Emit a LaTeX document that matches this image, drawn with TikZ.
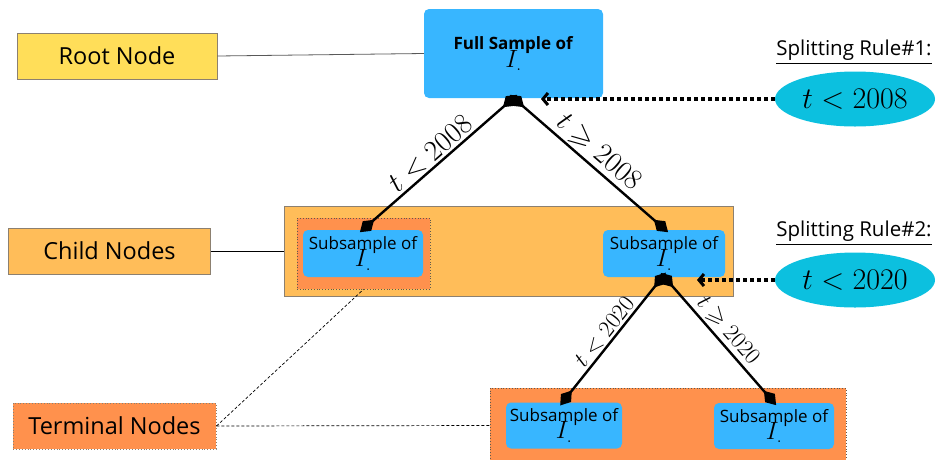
\RequirePackage{fix-cm}
\documentclass[tikz,border=0pt]{standalone}
\usepackage{amssymb}
\usepackage[no-math]{fontspec}
\setmainfont{Open Sans}
\usetikzlibrary{arrows.meta,shapes.geometric}
\definecolor{skyb}{HTML}{38B6FF}
\definecolor{cyanell}{HTML}{0CC0DF}
\definecolor{yel}{HTML}{FFDE59}
\definecolor{lorange}{HTML}{FFBD59}
\definecolor{dorange}{HTML}{FF914D}
\definecolor{bord}{HTML}{8C8070}
\tikzset{
  labbox/.style={draw=bord, line width=0.9pt, inner sep=0, minimum height=46pt,
    font=\fontsize{23.5}{26}\selectfont},
  bluebox/.style={fill=skyb, rounded corners=5pt, inner sep=0, align=center,
    font=\fontsize{17}{19}\selectfont},
  rulel/.style={font=\fontsize{20.5}{24}\selectfont, inner sep=0},
  rellipse/.style={ellipse, fill=cyanell, inner sep=0, minimum width=160pt, minimum height=55pt,
    font=\fontsize{30}{32}\selectfont},
  tipd/.style={diamond, fill=black, inner sep=0, minimum width=19pt, minimum height=13pt},
  treeline/.style={line width=2.4pt},
  dotarrow/.style={line width=3.5pt, dash pattern=on 3.5pt off 3.5pt, -{Straight Barb[length=5pt,width=12pt,line width=3pt]}},
  edgelab/.style={sloped, above, inner sep=2pt},
  bigmath/.style={font=\fontsize{29}{31}\selectfont},
  smallmath/.style={font=\fontsize{23.5}{26}\selectfont},
}
\newcommand{\Idot}{{\fontsize{25}{27}\selectfont$I_{.}$}}
\begin{document}
\begin{tikzpicture}[x=1pt,y=-1pt]
\useasboundingbox (0,0) rectangle (938,459);
% label boxes
\node[labbox, fill=yel, minimum width=200pt] (rootlab) at (117,56) {Root Node};
\node[labbox, fill=lorange, minimum width=202pt] (childlab) at (109.5,251) {Child Nodes};
\node[labbox, fill=dorange, minimum width=203pt, draw=bord, dotted] (termlab) at (114.5,426) {Terminal Nodes};
% containers
\node[draw=bord, line width=0.8pt, fill=lorange, minimum width=449pt, minimum height=90pt, inner sep=0] (childbox) at (508.5,251) {};
\node[draw=bord!70!black, dotted, line width=0.8pt, fill=dorange, minimum width=133pt, minimum height=71pt, inner sep=0] (inner) at (363.5,253.5) {};
\node[draw=bord!70!black, dotted, line width=0.8pt, fill=dorange, minimum width=356pt, minimum height=75pt, inner sep=0] (termbox) at (668,425.5) {};
% blue boxes
\node[bluebox, minimum width=179pt, minimum height=89pt] (full) at (513.5,53.5)
  {\textbf{Full Sample of}\\[-4pt]\Idot};
\node[bluebox, minimum width=120pt, minimum height=47pt] (cl) at (363,253.5)
  {Subsample of\\[-5pt]\Idot};
\node[bluebox, minimum width=122pt, minimum height=47pt] (cr) at (664,253.5)
  {Subsample of\\[-5pt]\Idot};
\node[bluebox, minimum width=116pt, minimum height=46pt] (tl) at (564,425.5)
  {Subsample of\\[-5pt]\Idot};
\node[bluebox, minimum width=120pt, minimum height=46pt] (tr) at (774,426)
  {Subsample of\\[-5pt]\Idot};
% splitting rules
\node[rulel] (r1lab) at (854,52) {\underline{Splitting Rule\#1:}};
\node[rulel] (r2lab) at (854,233) {\underline{Splitting Rule\#2:}};
\node[rellipse] (e1) at (855,99) {$t<2008$};
\node[rellipse] (e2) at (855,280) {$t<2020$};
% diamond end points
\node[tipd, rotate=41.2] (p1) at (510,101) {};
\node[tipd, rotate=-41.2] (p2) at (517,101) {};
\node[tipd, rotate=41.2] (q1) at (367,226) {};
\node[tipd, rotate=-41.2] (q2) at (661,226) {};
\node[tipd, rotate=52] (q3) at (660,280) {};
\node[tipd, rotate=-49.4] (q4) at (667,280) {};
\node[tipd, rotate=52] (s1) at (566,398) {};
\node[tipd, rotate=-49.4] (s2) at (770,398) {};
\coordinate (a1) at (541,99);
\coordinate (a2) at (697,280);
% label connectors
\draw[gray!70!black, line width=0.8pt] (rootlab.east) -- (full.west);
\draw[black, line width=0.8pt] (childlab.east) -- (childbox.west);
\draw[black, line width=0.7pt, densely dashed] (termlab.east) -- (termbox.west);
\draw[black, line width=0.7pt, densely dashed] (termlab.east) -- (inner.south);
% tree lines
\draw[treeline] (p1.center) -- node[edgelab, bigmath] {$t<2008$} (q1.center);
\draw[treeline] (p2.center) -- node[edgelab, bigmath] {$t\geqslant2008$} (q2.center);
\draw[treeline] (q3.center) -- node[edgelab, smallmath] {$t<2020$} (s1.center);
\draw[treeline] (q4.center) -- node[edgelab, smallmath] {$t\geqslant2020$} (s2.center);
% dotted arrows
\draw[dotarrow] (e1.west) -- (a1);
\draw[dotarrow] (e2.west) -- (a2);
\end{tikzpicture}
\end{document}
